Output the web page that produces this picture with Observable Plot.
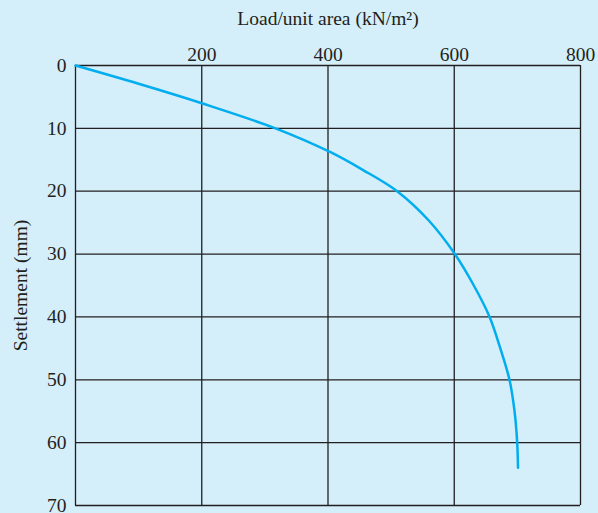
<!DOCTYPE html>
<html>
<head>
<meta charset="utf-8">
<script src="https://cdn.jsdelivr.net/npm/d3@7"></script>
<script src="https://cdn.jsdelivr.net/npm/@observablehq/plot@0.6"></script>
<style>
  html, body { margin: 0; padding: 0; background: #d4eefa; }
  #chart svg { display: block; }
  #chart svg text { font-size: 19.5px; fill: #231f20; }
</style>
</head>
<body>
<div id="chart"></div>
<script>
// Data
const load = [0, 100, 200, 316.8, 404, 455, 509.5, 560, 601, 631, 656, 673, 687.5, 695.5, 699.7, 701];
const settlement = [0, 2.9, 6.0, 10, 13.8, 16.6, 20, 24.7, 30, 35, 40, 45, 50, 55, 60, 64];
const xTicks = [200, 400, 600, 800];
const xGrid = [0, 200, 400, 600, 800];
const yTicks = [0, 10, 20, 30, 40, 50, 60, 70];

const data = load.map((l, i) => ({load: l, settlement: settlement[i]}));

const chart = Plot.plot({
  width: 598,
  height: 513,
  marginLeft: 75,
  marginRight: 18,
  marginTop: 65,
  marginBottom: 8,
  style: {background: "#d4eefa", fontFamily: "'Liberation Serif', 'Times New Roman', serif", color: "#231f20"},
  x: {domain: [0, 800]},
  y: {domain: [0, 70], reverse: true},
  marks: [
    Plot.ruleX(xGrid, {stroke: "#231f20", strokeWidth: 1.3}),
    Plot.ruleY(yTicks, {stroke: "#231f20", strokeWidth: 1.3}),
    Plot.axisX({anchor: "top", ticks: xTicks, tickSize: 0, tickPadding: 5, label: "Load/unit area (kN/m²)", labelAnchor: "center", labelArrow: "none", labelOffset: 54}),
    Plot.axisY({anchor: "left", ticks: yTicks, tickSize: 0, tickPadding: 9, label: "Settlement (mm)", labelAnchor: "center", labelArrow: "none", labelOffset: 62}),
    Plot.line(data, {x: "load", y: "settlement", stroke: "#00aeef", strokeWidth: 2.5, curve: "catmull-rom"})
  ]
});
document.getElementById("chart").appendChild(chart);
</script>
</body>
</html>
